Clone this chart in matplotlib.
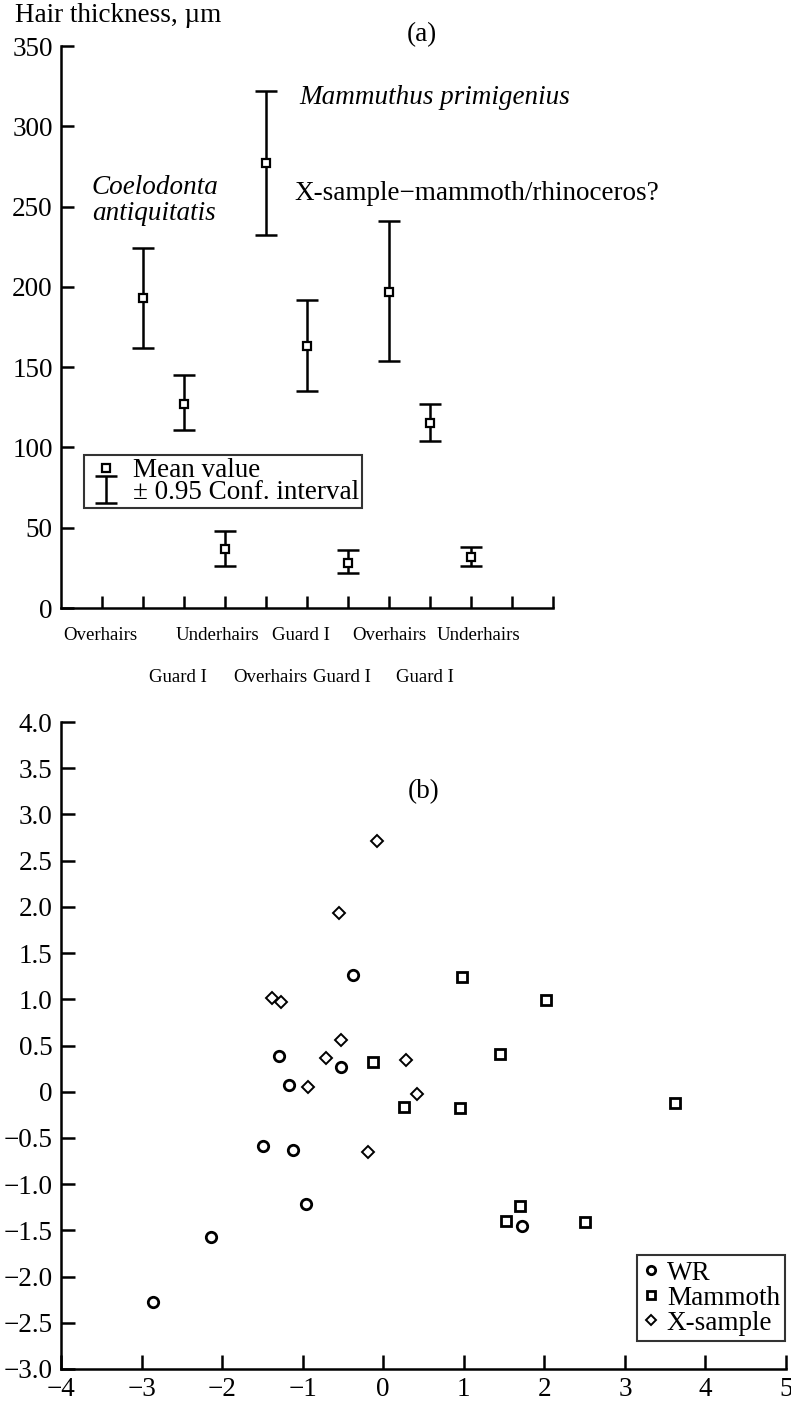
import numpy as np
import matplotlib
matplotlib.use("Agg")
import matplotlib.pyplot as plt

plt.rcParams['font.family'] = ['Liberation Serif', 'DejaVu Serif']

# (a) mean hair thickness with 0.95 confidence intervals
positions = [2, 3, 4, 5, 6, 7, 8, 9, 10]
means = [193, 127, 37, 277, 163, 28, 197, 115, 32]
ci_low = [162, 111, 26, 232, 135, 22, 154, 104, 26]
ci_high = [224, 145, 48, 322, 192, 36, 241, 127, 38]

top_row = ["Overhairs", "Underhairs", "Guard I", "Overhairs", "Underhairs"]
top_row_x = [0.95, 3.82, 5.86, 8.0, 10.17]
bottom_row = ["Guard I", "Overhairs", "Guard I", "Guard I"]
bottom_row_x = [2.85, 5.11, 6.86, 8.88]

# (b) scatter groups
wr_x = [-0.38, -1.30, -1.17, -0.53, -1.49, -1.12, -0.96, -2.14, -2.86, 1.72]
wr_y = [1.26, 0.39, 0.07, 0.27, -0.59, -0.63, -1.22, -1.57, -2.28, -1.45]
mam_x = [0.98, 2.02, 1.45, -0.13, 0.26, 0.95, 3.62, 1.70, 1.53, 2.50]
mam_y = [1.24, 0.99, 0.41, 0.32, -0.17, -0.18, -0.12, -1.24, -1.40, -1.41]
xs_x = [-0.08, -0.55, -1.38, -1.27, -0.53, -0.71, -0.93, -0.19, 0.28, 0.42]
xs_y = [2.71, 1.93, 1.01, 0.97, 0.56, 0.36, 0.05, -0.65, 0.34, -0.03]

fig = plt.figure(figsize=(7.91, 14.01), dpi=100)
W, H = 791.0, 1401.0

def fig_axes(l, r, t, b):
    return fig.add_axes([l / W, 1 - b / H, (r - l) / W, (b - t) / H])

fs = 19.5
cat_fs = 13.6

# ---------- panel (a) ----------
ax = fig_axes(61, 553, 46, 608)
means = np.array(means)
yerr = [means - np.array(ci_low), np.array(ci_high) - means]
eb = ax.errorbar(positions, means, yerr=yerr, fmt='none', ecolor='black',
                 elinewidth=1.8, capsize=8, capthick=1.8,
                 label=u'\u00b1 0.95 Conf. interval')
mk, = ax.plot(positions, means, linestyle='none', marker='s', markersize=6,
              markerfacecolor='white', markeredgecolor='black',
              markeredgewidth=1.6, label='Mean value')
ax.set_xlim(0, 12)
ax.set_ylim(0, 350)
ax.set_xticks(range(1, 13))
ax.set_xticklabels([])
ax.set_yticks(range(0, 351, 50))
for s in ['top', 'right']:
    ax.spines[s].set_visible(False)
for s in ['left', 'bottom']:
    ax.spines[s].set_linewidth(1.8)
ax.tick_params(direction='in', length=9, width=1.8, labelsize=fs, pad=6)

for lab, x in zip(top_row, top_row_x):
    ax.text(x, -17, lab, ha='center', va='center', fontsize=cat_fs, clip_on=False)
for lab, x in zip(bottom_row, bottom_row_x):
    ax.text(x, -43, lab, ha='center', va='center', fontsize=cat_fs, clip_on=False)

ax.text(0.75, 254, "Coelodonta\nantiquitatis", ha='left', va='center',
        fontsize=fs, style='italic', linespacing=1.05)
ax.text(5.82, 318, "Mammuthus primigenius", ha='left', va='center',
        fontsize=fs, style='italic')
ax.text(5.69, 258, u"X-sample\u2212mammoth/rhinoceros?", ha='left', va='center',
        fontsize=fs)
ax.text(8.8, 357, "(a)", ha='center', va='center', fontsize=fs, clip_on=False)
fig.text(15 / W, 1 - 16 / H, u"Hair thickness, \u00b5m", ha='left', va='center',
         fontsize=fs)

leg = ax.legend(handles=[mk, eb], loc='lower left',
                bbox_to_anchor=(84 / W, 1 - 508 / H), bbox_transform=fig.transFigure,
                borderaxespad=0, fontsize=fs, frameon=True, fancybox=False,
                handlelength=1.4, handletextpad=0.3, borderpad=0.1,
                labelspacing=-0.1)
leg.get_frame().set_edgecolor('black')
leg.get_frame().set_linewidth(1.5)

# ---------- panel (b) ----------
bx = fig_axes(61, 786, 722, 1369)
common = dict(linestyle='none', markerfacecolor='white', markeredgecolor='black')
bx.plot(wr_x, wr_y, marker='o', markersize=7.5, markeredgewidth=2.0, label='WR', **common)
bx.plot(mam_x, mam_y, marker='s', markersize=7.5, markeredgewidth=2.0, label='Mammoth', **common)
bx.plot(xs_x, xs_y, marker='D', markersize=6, markeredgewidth=1.4, label='X-sample', **common)
bx.set_xlim(-4, 5)
bx.set_ylim(-3, 4)
bx.set_xticks(range(-4, 6))
bx.set_xticklabels([u'\u2212%d' % -v if v < 0 else '%d' % v for v in range(-4, 6)])
yt = np.arange(-3.0, 4.01, 0.5)
bx.set_yticks(yt)
bx.set_yticklabels(['0' if abs(v) < 1e-9 else (u'\u2212%.1f' % -v if v < 0 else '%.1f' % v)
                    for v in yt])
for s in ['top', 'right']:
    bx.spines[s].set_visible(False)
for s in ['left', 'bottom']:
    bx.spines[s].set_linewidth(1.8)
bx.tick_params(direction='in', length=10, width=1.8, labelsize=fs, pad=6)
bx.text(0.5, 3.25, "(b)", ha='center', va='center', fontsize=fs)

leg2 = bx.legend(loc='lower left', bbox_to_anchor=(637 / W, 1 - 1341 / H),
                 bbox_transform=fig.transFigure, borderaxespad=0, fontsize=fs,
                 frameon=True, fancybox=False, handlelength=0.6,
                 handletextpad=0.3, borderpad=0.2, labelspacing=0.0,
                 markerscale=0.8)
leg2.get_frame().set_edgecolor('black')
leg2.get_frame().set_linewidth(1.5)

fig.savefig("out.png", dpi=100)
